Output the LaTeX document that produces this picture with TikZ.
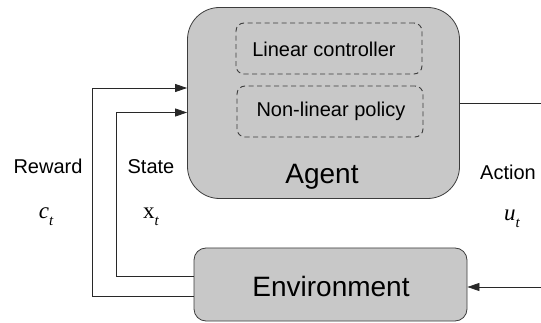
\RequirePackage{fix-cm}
\documentclass[tikz,border=0pt]{standalone}
\usepackage{fontspec}
\setmainfont{Liberation Sans}
\newfontfamily\mathlike{Liberation Serif}
\usetikzlibrary{arrows.meta}
\definecolor{boxfill}{RGB}{200,200,200}
\definecolor{edge}{RGB}{60,60,60}
\definecolor{wire}{RGB}{40,40,40}
\newcommand{\symsub}[2]{{\mathlike\fontsize{23}{26}\selectfont #1\raisebox{-0.28em}{\fontsize{15}{17}\selectfont\itshape #2}}}
\begin{document}
\begin{tikzpicture}[x=1pt,y=-1pt,
  every node/.style={font=\fontsize{20}{24}\selectfont, inner sep=0pt},
  block/.style={draw=edge, fill=boxfill, line width=0.8pt},
  sub/.style={draw=edge, dashed, dash pattern=on 5pt off 3.5pt, line width=0.9pt, rounded corners=8pt, minimum width=186pt, minimum height=51pt},
  big/.style={font=\fontsize{28}{32}\selectfont},
  conn/.style={draw=wire, line width=0.8pt},
  tip/.style={-{Triangle[length=12pt,width=8pt]}}]
\useasboundingbox (0,0) rectangle (541,323);
% Agent
\node[block, rounded corners=32pt, minimum width=272pt, minimum height=191pt] (agent) at (323.5,103) {};
\node[sub] (lin) at (329,48.5) {};
\node[anchor=base] (lintext) at (324,56.5) {Linear controller};
\node[sub] (nonlin) at (330,111.5) {};
\node[anchor=base] (nonlintext) at (331,116.5) {Non-linear policy};
\node[big, anchor=base] (agenttext) at (322,184) {Agent};
% Environment
\node[block, rounded corners=12pt, minimum width=273pt, minimum height=73pt] (env) at (330.5,284.5) {};
\node[big, anchor=base] (envtext) at (331,296.5) {Environment};
% coordinates at the right edge
\coordinate (actout) at (541,103);
\coordinate (actin) at (541,287);
% connectors
\draw[conn] (agent.east |- actout) -- (actout);
\draw[conn, tip] (actin) -- (env.east |- actin);
\draw[conn, tip] (env.west |- 0,296) -- (92,296) -- (92,88) -- (agent.west |- 0,88);
\draw[conn, tip] (env.west |- 0,276) -- (116,276) -- (116,112.5) -- (agent.west |- 0,112.5);
% labels
\node[anchor=base] (reward) at (48,174) {Reward};
\node[anchor=base] (ct) at (46,219) {\symsub{\itshape c}{t}};
\node[anchor=base] (state) at (151,174) {State};
\node[anchor=base] (xt) at (151,219) {\symsub{x}{t}};
\node[anchor=base west] (action) at (480,180) {Action};
\node[anchor=base] (ut) at (512,221) {\symsub{\itshape u}{t}};
\end{tikzpicture}
\end{document}
